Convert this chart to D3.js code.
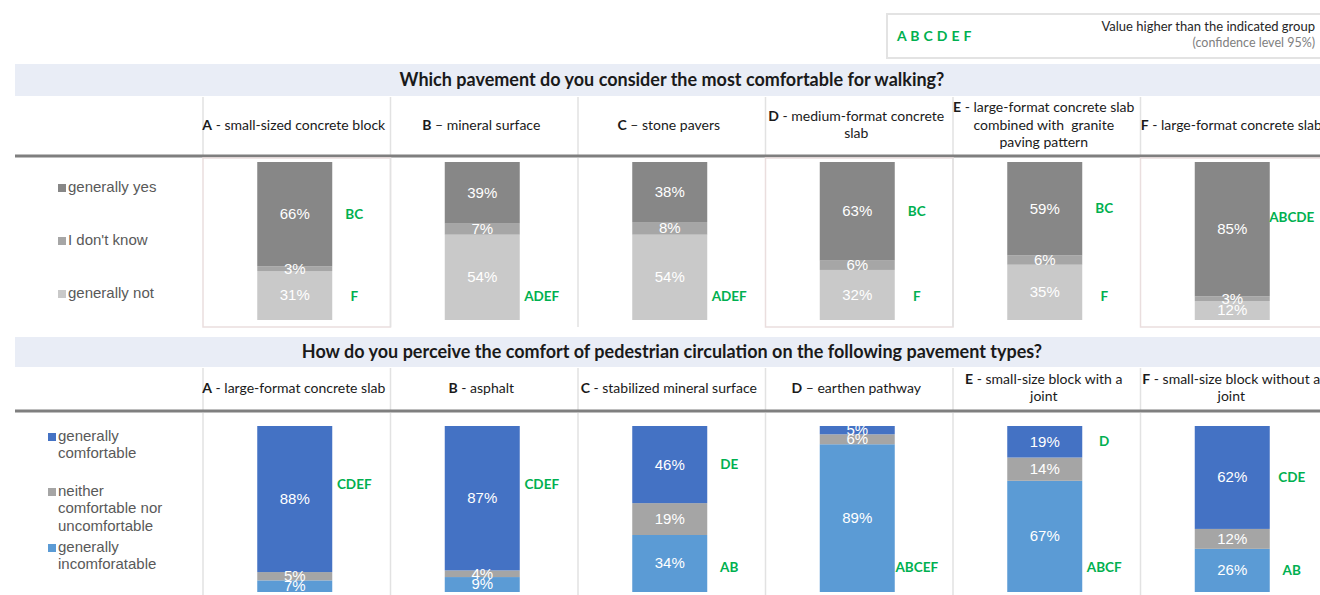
<!DOCTYPE html>
<html><head><meta charset="utf-8">
<script src="https://cdn.jsdelivr.net/npm/d3@7"></script>
<style>
html,body{margin:0;padding:0;background:#fff;}
svg{display:block;}
text{white-space:pre;}
</style></head>
<body>
<svg id="chart" width="1320" height="595"></svg>
<script>
// ---------- DATA ----------
const cats = ["A","B","C","D","E","F"];

const q1Title = "Which pavement do you consider the most comfortable for walking?";
const q1Names = [
  ["A - small-sized concrete block"],
  ["B \u2013 mineral surface"],
  ["C \u2013 stone pavers"],
  ["D - medium-format concrete", "slab"],
  ["E - large-format concrete slab", "combined with  granite", "paving pattern"],
  ["F - large-format concrete slab"]
];
const q1Keys = ["generally yes", "I don't know", "generally not"];
const q1Yes  = [66, 39, 38, 63, 59, 85];
const q1DK   = [3, 7, 8, 6, 6, 3];
const q1Not  = [31, 54, 54, 32, 35, 12];
const q1SigYes = ["BC", "", "", "BC", "BC", "ABCDE"];
const q1SigNot = ["F", "ADEF", "ADEF", "F", "F", ""];

const q2Title = "How do you perceive the comfort of pedestrian circulation on the following pavement types?";
const q2Names = [
  ["A - large-format concrete slab"],
  ["B - asphalt"],
  ["C - stabilized mineral surface"],
  ["D \u2013 earthen pathway"],
  ["E - small-size block with a", "joint"],
  ["F - small-size block without a", "joint"]
];
const q2Keys = [["generally", "comfortable"], ["neither", "comfortable nor", "uncomfortable"], ["generally", "incomforatable"]];
const q2Comf = [88, 87, 46, 5, 19, 62];
const q2Neu  = [5, 4, 19, 6, 14, 12];
const q2Inc  = [7, 9, 34, 89, 67, 26];
const q2SigComf = ["CDEF", "CDEF", "DE", "", "D", "CDE"];
const q2SigInc  = ["", "", "AB", "ABCEF", "ABCF", "AB"];

const legendLetters = "A B C D E F";
const legendText1 = "Value higher than the indicated group";
const legendText2 = "(confidence level 95%)";

// ---------- STYLE ----------
const GREEN = "#00b050";
const headFont = "Lato, 'Open Sans', sans-serif";
const arial = "'Liberation Sans', Arial, sans-serif";
const q1Colors = ["#878787", "#a6a6a6", "#c9c9c9"];
const q2Colors = ["#4472c4", "#a5a5a5", "#5b9bd5"];

const svg = d3.select("#chart");

// column scale
const x = d3.scaleBand().domain(cats).range([203, 203 + 6 * 187.5]);
const barW = x.bandwidth() * 0.4;
const barX = c => x(c) + (x.bandwidth() - barW) / 2 - 2;

// ---------- LEGEND BOX (top right) ----------
svg.append("rect").attr("x", 887).attr("y", 14).attr("width", 450).attr("height", 44)
  .attr("fill", "#fff").attr("stroke", "#e3e3e3").attr("stroke-width", 2);
svg.append("text").attr("x", 897).attr("y", 41).text(legendLetters)
  .attr("font-family", headFont).attr("font-weight", 700).attr("font-size", 14)
  .attr("fill", GREEN).attr("letter-spacing", 0.3);
svg.append("text").attr("x", 1315).attr("y", 31).attr("text-anchor", "end").text(legendText1)
  .attr("font-family", headFont).attr("font-size", 13).attr("fill", "#262626");
svg.append("text").attr("x", 1315).attr("y", 47).attr("text-anchor", "end").text(legendText2)
  .attr("font-family", headFont).attr("font-size", 12.5).attr("fill", "#808080");

function section(cfg) {
  const g = svg.append("g");
  // title band
  g.append("rect").attr("x", 15).attr("y", cfg.bandY).attr("width", 1320).attr("height", cfg.bandH)
    .attr("fill", "#e9edf6");
  g.append("text").attr("x", 672).attr("y", cfg.bandY + cfg.bandH / 2 + 1)
    .attr("text-anchor", "middle").attr("dominant-baseline", "middle")
    .attr("font-family", headFont).attr("font-weight", 700).attr("font-size", 18)
    .attr("fill", "#1a1a1a").text(cfg.title);

  // header separators
  const bounds = cats.map(c => x(c));
  g.selectAll(".hsep").data(bounds).join("line")
    .attr("x1", d => d).attr("x2", d => d)
    .attr("y1", cfg.headY0).attr("y2", cfg.headY1)
    .attr("stroke", "#e2e2e2").attr("stroke-width", 1.5);

  // header labels
  cats.forEach((c, i) => {
    const lines = cfg.names[i];
    const lh = 17.5;
    const cy = (cfg.headY0 + cfg.headY1) / 2;
    const y0 = cy - (lines.length - 1) * lh / 2;
    const t = g.append("text").attr("text-anchor", "middle")
      .attr("font-family", headFont).attr("font-size", 14).attr("fill", "#1a1a1a");
    lines.forEach((ln, j) => {
      const ts = t.append("tspan").attr("x", x(c) + x.bandwidth() / 2 - 3).attr("y", y0 + j * lh)
        .attr("dominant-baseline", "middle");
      if (j === 0) {
        ts.append("tspan").attr("font-weight", 700).text(ln.charAt(0));
        ts.append("tspan").text(ln.slice(1));
      } else ts.text(ln);
    });
  });

  // thick rule
  g.append("line").attr("x1", 15).attr("x2", 1320).attr("y1", cfg.ruleY).attr("y2", cfg.ruleY)
    .attr("stroke", "#7f7f7f").attr("stroke-width", 3);

  // panel separators / boxes
  cfg.panelFrames(g, bounds);

  // stacked bars
  const rows = cats.map((c, i) => ({cat: c, k0: cfg.vals[2][i], k1: cfg.vals[1][i], k2: cfg.vals[0][i]}));
  const stack = d3.stack().keys(["k0", "k1", "k2"]).offset(d3.stackOffsetExpand)(rows);
  const y = d3.scaleLinear().domain([0, 1]).range([cfg.barY1, cfg.barY0]);
  const colorOf = {k0: cfg.colors[2], k1: cfg.colors[1], k2: cfg.colors[0]};

  stack.forEach(layer => {
    g.selectAll(null).data(layer).join("rect")
      .attr("x", d => barX(d.data.cat)).attr("width", barW)
      .attr("y", d => y(d[1])).attr("height", d => y(d[0]) - y(d[1]))
      .attr("fill", colorOf[layer.key]);
  });
  stack.forEach(layer => {
    g.selectAll(null).data(layer).join("text")
      .attr("x", d => barX(d.data.cat) + barW / 2)
      .attr("y", d => y((d[0] + d[1]) / 2) + 1)
      .attr("text-anchor", "middle").attr("dominant-baseline", "middle")
      .attr("font-family", arial).attr("font-size", 15).attr("fill", "#fff")
      .text(d => d.data[layer.key] + "%");
  });

  // significance letters
  const top = stack[2], bot = stack[0];
  g.selectAll(null).data(top).join("text")
    .attr("x", d => barX(d.data.cat) + barW + 22)
    .attr("y", d => y(Math.max((d[0] + d[1]) / 2, 0.65)) + 1)
    .attr("text-anchor", "middle").attr("dominant-baseline", "middle")
    .attr("font-family", headFont).attr("font-weight", 700).attr("font-size", 13.5).attr("fill", GREEN)
    .text((d, i) => cfg.sigTop[i]);
  g.selectAll(null).data(bot).join("text")
    .attr("x", d => barX(d.data.cat) + barW + 22)
    .attr("y", d => y(Math.min((d[0] + d[1]) / 2, 0.15)) + 1)
    .attr("text-anchor", "middle").attr("dominant-baseline", "middle")
    .attr("font-family", headFont).attr("font-weight", 700).attr("font-size", 13.5).attr("fill", GREEN)
    .text((d, i) => cfg.sigBot[i]);

  // left legend
  cfg.legend.forEach((lines, i) => {
    const yy = cfg.legendY[i];
    g.append("rect").attr("x", cfg.legendX).attr("y", yy - 4).attr("width", 8).attr("height", 8)
      .attr("fill", cfg.colors[i]);
    const t = g.append("text").attr("font-family", arial).attr("font-size", 15).attr("fill", "#595959");
    lines.forEach((ln, j) => {
      t.append("tspan").attr("x", cfg.legendX + 10).attr("y", yy + j * 17.5)
        .attr("dominant-baseline", "middle").text(ln);
    });
  });
}

section({
  title: q1Title, names: q1Names,
  bandY: 64, bandH: 32, headY0: 97, headY1: 155, ruleY: 156,
  barY0: 162, barY1: 320,
  vals: [q1Yes, q1DK, q1Not], colors: q1Colors,
  sigTop: q1SigYes, sigBot: q1SigNot,
  legend: q1Keys.map(k => [k]), legendX: 58, legendY: [188, 241, 294],
  panelFrames: (g, b) => {
    const boxed = ["A", "D", "F"];
    b.forEach((bx, i) => {
      if (boxed.includes(cats[i])) {
        g.append("rect").attr("x", bx).attr("y", 158).attr("width", x.bandwidth()).attr("height", 169)
          .attr("fill", "none").attr("stroke", "#eadede").attr("stroke-width", 1.5);
      } else {
        g.append("line").attr("x1", bx).attr("x2", bx).attr("y1", 158).attr("y2", 327)
          .attr("stroke", "#e2e2e2").attr("stroke-width", 1.5);
      }
    });
  }
});

section({
  title: q2Title, names: q2Names,
  bandY: 337, bandH: 30, headY0: 368, headY1: 410, ruleY: 411,
  barY0: 426, barY1: 592,
  vals: [q2Comf, q2Neu, q2Inc], colors: q2Colors,
  sigTop: q2SigComf, sigBot: q2SigInc,
  legend: q2Keys, legendX: 48, legendY: [437, 492, 548],
  panelFrames: (g, b) => {
    g.selectAll(null).data(b).join("line")
      .attr("x1", d => d).attr("x2", d => d).attr("y1", 413).attr("y2", 595)
      .attr("stroke", "#e2e2e2").attr("stroke-width", 1.5);
  }
});
</script>
</body></html>
